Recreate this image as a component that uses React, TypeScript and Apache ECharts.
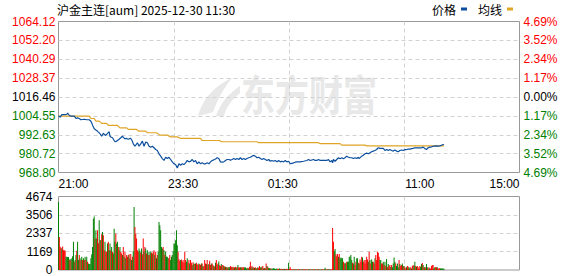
import React, { useEffect, useRef } from "react";
import * as echarts from "echarts";

const titleText = "沪金主连[aum] 2025-12-30 11:30";
const legendNames = ["价格", "均线"];

// tick labels, bottom to top
const priceTicks = ["968.80", "980.72", "992.63", "1004.55", "1016.46", "1028.37", "1040.29", "1052.20", "1064.12"];
const pctTicks = ["4.69%", "3.52%", "2.34%", "1.17%", "0.00%", "1.17%", "2.34%", "3.52%", "4.69%"];
const volTicks = ["0", "1169", "2337", "3506", "4674"];
const timeTicks: Record<number, string> = { 0: "21:00", 150: "23:30", 270: "01:30", 435: "11:00", 555: "15:00" };

const priceMin = 968.8;
const priceMax = 1064.12;
const volMax = 4674;
const totalMinutes = 555;

// [minute index, price]
const pricePoints: [number, number][] = [
  [0, 1004.4], [2, 1003.8], [4, 1005.3], [8, 1005.3], [10, 1005.6], [11, 1006.3], [12, 1005.5], [13, 1004.8], [15, 1004.4], [19, 1004.4],
  [21, 1002.9], [23, 1003.3], [25, 1002.9], [27, 1002.1], [31, 1002.4], [34, 1002.1], [37, 1002.1], [39, 1001.2], [40, 1000.0], [41, 998.7],
  [43, 996.4], [45, 995.6], [46, 995.3], [48, 994.3], [49, 993.9], [51, 992.5], [52, 991.7], [54, 993.6], [55, 993.0], [57, 992.2],
  [59, 993.5], [61, 994.5], [62, 991.7], [63, 991.2], [65, 990.7], [67, 989.0], [68, 988.2], [70, 988.6], [71, 989.0], [73, 989.8],
  [75, 990.7], [77, 991.7], [78, 991.0], [80, 990.1], [82, 990.3], [84, 989.8], [86, 990.3], [87, 990.3], [89, 988.5], [90, 986.9],
  [92, 985.4], [93, 986.0], [95, 987.6], [97, 985.4], [99, 986.9], [101, 988.6], [103, 985.4], [105, 988.0], [107, 987.6], [109, 985.4],
  [111, 984.8], [113, 985.4], [115, 984.4], [117, 983.3], [119, 982.7], [121, 980.6], [123, 979.1], [125, 977.6], [127, 976.4], [129, 978.4],
  [131, 977.6], [133, 978.4], [135, 977.0], [137, 975.5], [139, 974.3], [141, 973.8], [143, 971.7], [145, 974.3], [147, 973.4], [149, 974.3],
  [151, 973.8], [153, 974.9], [155, 976.4], [157, 975.5], [159, 975.9], [161, 977.0], [163, 975.5], [165, 976.4], [167, 974.3], [169, 975.5],
  [171, 974.3], [173, 974.9], [175, 974.3], [177, 974.3], [179, 974.9], [181, 974.3], [183, 975.5], [185, 976.4], [187, 976.8], [189, 977.3],
  [191, 978.1], [193, 977.6], [195, 975.5], [197, 975.3], [199, 975.5], [201, 976.4], [203, 977.0], [205, 977.0], [207, 976.6], [209, 977.0],
  [211, 977.6], [213, 977.0], [215, 977.6], [217, 977.0], [219, 978.1], [221, 977.0], [223, 977.6], [225, 977.0], [227, 977.6], [229, 978.1],
  [231, 978.4], [233, 979.1], [235, 979.6], [237, 979.1], [239, 978.1], [241, 978.4], [243, 977.6], [245, 977.0], [247, 977.6], [249, 977.0],
  [251, 976.4], [253, 977.0], [255, 975.9], [257, 976.4], [259, 975.9], [261, 976.4], [263, 975.5], [265, 976.4], [267, 975.5], [269, 975.9],
  [271, 975.5], [273, 976.4], [275, 975.5], [277, 975.9], [279, 974.3], [281, 974.6], [283, 974.9], [285, 975.3], [287, 975.5], [291, 975.5],
  [295, 975.9], [299, 976.4], [301, 977.0], [303, 976.4], [307, 977.0], [309, 976.4], [311, 976.4], [313, 977.0], [315, 976.4], [319, 976.4],
  [323, 976.4], [325, 977.0], [327, 975.5], [329, 976.4], [330, 974.9], [331, 977.0], [333, 975.9], [335, 977.0], [337, 978.1], [339, 977.5],
  [341, 978.1], [343, 977.5], [345, 978.1], [347, 979.1], [349, 978.4], [351, 978.1], [353, 978.1], [355, 977.6], [357, 978.1], [359, 977.6],
  [361, 978.4], [362, 977.6], [365, 979.1], [367, 979.7], [369, 980.6], [371, 981.0], [373, 980.6], [375, 981.2], [377, 981.9], [379, 982.3],
  [381, 982.7], [383, 983.3], [385, 984.4], [387, 984.0], [389, 984.0], [391, 984.0], [393, 982.7], [395, 983.3], [397, 982.7], [399, 983.3],
  [401, 982.7], [403, 982.3], [405, 983.0], [407, 982.3], [409, 981.9], [411, 982.7], [413, 983.0], [415, 982.7], [417, 983.3], [419, 983.3],
  [421, 983.6], [423, 983.6], [425, 983.9], [427, 984.0], [429, 984.4], [431, 984.4], [433, 984.4], [435, 984.4], [437, 984.4], [439, 984.8],
  [441, 983.9], [443, 983.3], [445, 984.4], [447, 984.8], [449, 985.0], [451, 985.4], [453, 985.4], [455, 985.6], [457, 985.4], [459, 985.6],
  [461, 986.0], [463, 986.5], [464, 986.3],
];

// [minute index, average price]
const avgPoints: [number, number][] = [
  [0, 1004.4], [37, 1004.4], [39, 1002.9], [43, 1002.9], [45, 1001.2], [49, 1001.2], [52, 999.8], [58, 999.8], [60, 998.5], [71, 998.5],
  [74, 997.0], [82, 997.0], [84, 996.0], [94, 996.0], [97, 994.9], [105, 994.9], [107, 993.9], [118, 993.9], [122, 992.4], [131, 992.4],
  [135, 991.3], [143, 991.3], [147, 990.3], [171, 990.3], [173, 989.0], [194, 989.0], [196, 988.2], [239, 988.2], [241, 987.6], [313, 987.6],
  [315, 987.0], [339, 987.0], [341, 986.1], [369, 986.1], [371, 985.6], [464, 985.6],
];

// volume per minute, from minute 0
const volumes: number[] = [
  4320, 2100, 1480, 1410, 1370, 1500, 1260, 1250, 1230, 850,
  840, 830, 820, 640, 700, 620, 740, 880, 1790, 520,
  630, 950, 1220, 1790, 640, 950, 740, 630, 840, 630,
  740, 630, 840, 630, 840, 520, 420, 380, 380, 740,
  1000, 1470, 3260, 3410, 2000, 2530, 2000, 2530, 1700, 3160,
  1890, 1900, 2270, 2420, 2210, 1260, 1790, 1200, 1160, 1680,
  1790, 1260, 1680, 1260, 1470, 1160, 1050, 2630, 1800, 2315,
  1680, 1790, 1470, 1260, 1470, 1160, 1050, 950, 1470, 840,
  1160, 740, 950, 840, 950, 1000, 740, 1010, 630, 840,
  1200, 4000, 2740, 2300, 2000, 1260, 1160, 1370, 1220, 1100,
  1370, 1000, 2000, 1160, 1470, 1370, 1050, 1260, 950, 1160,
  950, 1160, 1100, 1050, 1160, 1260, 950, 1160, 740, 950,
  1160, 3050, 2840, 2530, 1470, 1370, 1470, 1260, 950, 1160,
  840, 840, 740, 740, 950, 630, 840, 950, 1200, 1680,
  1680, 1890, 2530, 1580, 1160, 680, 590, 630, 670, 520,
  630, 470, 1160, 630, 520, 740, 460, 630, 420, 630,
  460, 320, 500, 420, 380, 420, 460, 370, 320, 420,
  380, 320, 420, 420, 260, 220, 630, 420, 380, 630,
  320, 380, 590, 320, 420, 420, 320, 250, 220, 460,
  630, 330, 420, 540, 310, 250, 380, 300, 320, 250,
  230, 200, 180, 170, 160, 170, 170, 250, 200, 160,
  210, 170, 160, 200, 160, 170, 320, 170, 160, 170,
  170, 160, 170, 180, 160, 170, 100, 120, 150, 110,
  210, 520, 170, 250, 160, 170, 120, 180, 110, 120,
  170, 150, 250, 170, 160, 200, 250, 100, 120, 90,
  420, 250, 200, 130, 110, 90, 100, 80, 90, 110,
  90, 70, 80, 90, 70, 80, 90, 60, 80, 70,
  60, 70, 80, 70, 60, 80, 60, 460, 60, 170,
  50, 40, 50, 40, 30, 40, 50, 40, 30, 40,
  40, 30, 50, 40, 30, 40, 50, 30, 40, 30,
  40, 30, 50, 40, 30, 40, 30, 40, 50, 30,
  40, 30, 40, 50, 30, 40, 30, 40, 50, 30,
  40, 150, 40, 30, 40, 50, 30, 40, 40, 50,
  2670, 1790, 1200, 1330, 1000, 880, 1010, 840, 1010, 740,
  800, 740, 740, 530, 420, 460, 420, 530, 530, 530,
  840, 840, 950, 630, 460, 420, 840, 320, 530, 740,
  740, 460, 420, 670, 530, 840, 800, 530, 630, 420,
  630, 840, 670, 530, 1160, 630, 420, 670, 530, 530,
  420, 740, 950, 630, 1160, 1100, 840, 630, 630, 420,
  420, 530, 320, 530, 250, 700, 170, 380, 250, 320,
  170, 320, 170, 420, 800, 530, 420, 250, 420, 170,
  630, 380, 250, 320, 420, 250, 250, 170, 100, 170,
  250, 210, 170, 100, 170, 100, 250, 320, 250, 530,
  250, 200, 250, 170, 100, 250, 200, 380, 450, 320,
  170, 170, 170, 380, 170, 100, 170, 100, 100, 250,
  320, 320, 100, 170, 170, 170, 170, 100, 100, 120,
  100, 100, 100, 100, 80,
];

// r = up (red), g = down (green), one letter per minute
const volumeSide = (
  "grrrgrrrrg gggrgrgggr ggrggrgrgr grgrgrgggg ggggrggrrg rgrgrrgrrg rggrgrgggr ggrrgrrgrg rgrrgrgrgr ggrrrrrggr " +
  "grrgrgrgrg rgrgrrgrgr ggggggrgrg gggrrggggg ggggrrrgrr rrrrggrrgr rgrgrgrrrg rrgrgrrrgr rgrrgrrgrg rrrgrrgrrg " +
  "rgrgrggrrg rrgrgrgrrg rgrrggggrg rrgrgrgrgr grrgrgrgrg rgrgggrggg ggggrrggrr grgrgrrgrr rrgrrgrgrr grrggrrgrg " +
  "rggrrggrrg grrgrgrgrr ggrgrgrgrr rrggrrrgrg gggrrggrgg ggggrggrrg grgrrrgrrr rrrgrgrggr rgrrrrrggr rgrgrgrgrr " +
  "grggggrggg rgrrgrgrrg rrggrgrrgg rgrrrrggrg rgrggrrgrr rrggrrgrrr ggggg"
).replace(/ /g, "").split("");

const RED = "#ff0000";
const GREEN = "#008000";
const PRICE_COLOR = "#0c4f9e";
const AVG_COLOR = "#e0a526";
const WATERMARK = "#e8e8e8";
const NUM_FONT = '"Liberation Sans", Arial, sans-serif';
const CJK_FONT = '"Noto Sans CJK SC", sans-serif';

const LOGO_PATH =
  "M0 40 C4 24 16 10 34 2 C26 12 20 22 15 36 C11 37 5 39 0 40 Z M18 40 C22 28 30 18 42 10 L42 17 C33 24 28 32 26 40 Z";

export default function App() {
  const ref = useRef<HTMLDivElement>(null);

  useEffect(() => {
    if (!ref.current) return;
    const Logo = echarts.graphic.extendPath(LOGO_PATH, {});
    echarts.graphic.registerShape("emlogo", Logo as any);

    const chart = echarts.init(ref.current, undefined, { renderer: "svg" });

    const splitLine = {
      show: true,
      showMinLine: false,
      showMaxLine: false,
      lineStyle: { color: "#d2d2d2", type: [4, 3] as any, width: 1 },
    };

    const option: any = {
      animation: false,
      backgroundColor: "#ffffff",
      title: {
        text: titleText,
        left: 57,
        top: 3,
        padding: 0,
        textStyle: { fontSize: 12, fontWeight: "normal", color: "#000", fontFamily: CJK_FONT },
      },
      legend: {
        data: legendNames.map((n) => ({ name: n, icon: "rect" })),
        right: 65,
        top: 3,
        padding: 0,
        align: "right",
        itemWidth: 6,
        itemHeight: 3,
        itemGap: 11,
        textStyle: { fontSize: 12, color: "#000", fontFamily: CJK_FONT },
      },
      graphic: [
        {
          type: "emlogo",
          x: 198,
          y: 76,
          style: { fill: WATERMARK },
          z: 0,
          silent: true,
        },
        {
          type: "text",
          x: 241,
          y: 71,
          scaleY: 1.25,
          z: 0,
          silent: true,
          style: {
            text: "东方财富",
            fill: WATERMARK,
            font: 'bold 34px "Noto Sans CJK SC"',
            textVerticalAlign: "top",
          },
        },
      ],
      grid: [
        { left: 58.5, top: 21.5, width: 461, height: 151, show: true, borderColor: "#999", borderWidth: 1, backgroundColor: "transparent" },
        { left: 58.5, top: 196.5, width: 461, height: 74, show: true, borderColor: "#999", borderWidth: 1, backgroundColor: "transparent" },
      ],
      xAxis: [
        {
          type: "value",
          gridIndex: 0,
          min: 0,
          max: totalMinutes,
          interval: totalMinutes / 4,
          axisLine: { show: false },
          axisTick: { show: false },
          axisLabel: { show: false },
          splitLine,
        },
        {
          type: "value",
          gridIndex: 0,
          position: "bottom",
          min: 0,
          max: totalMinutes,
          interval: 15,
          axisLine: { show: false },
          axisTick: { show: false },
          splitLine: { show: false },
          axisLabel: {
            show: true,
            margin: 5,
            fontSize: 12,
            color: "#000",
            fontFamily: NUM_FONT,
            showMinLabel: true,
            showMaxLabel: true,
            alignMinLabel: "left",
            alignMaxLabel: "right",
            formatter: (v: number) => timeTicks[Math.round(v)] ?? "",
          },
        },
        {
          type: "value",
          gridIndex: 1,
          min: 0,
          max: totalMinutes,
          interval: totalMinutes / 4,
          axisLine: { show: false },
          axisTick: { show: false },
          axisLabel: { show: false },
          splitLine,
        },
      ],
      yAxis: [
        { type: "value", gridIndex: 0, min: priceMin, max: priceMax, show: false, position: "right" },
        {
          type: "value",
          gridIndex: 0,
          position: "left",
          min: 0,
          max: priceTicks.length - 1,
          interval: 1,
          axisLine: { show: false },
          axisTick: { show: false },
          splitLine,
          axisLabel: {
            margin: 3,
            fontSize: 12,
            fontFamily: NUM_FONT,
            formatter: (v: number) => priceTicks[Math.round(v)],
            color: (v: any) => {
              const i = Math.round(Number(v));
              return i > 4 ? RED : i < 4 ? GREEN : "#000";
            },
          },
        },
        {
          type: "value",
          gridIndex: 0,
          position: "right",
          min: 0,
          max: pctTicks.length - 1,
          interval: 1,
          axisLine: { show: false },
          axisTick: { show: false },
          splitLine: { show: false },
          axisLabel: {
            margin: 4,
            fontSize: 12,
            fontFamily: NUM_FONT,
            formatter: (v: number) => pctTicks[Math.round(v)],
            color: (v: any) => {
              const i = Math.round(Number(v));
              return i > 4 ? RED : i < 4 ? GREEN : "#000";
            },
          },
        },
        {
          type: "value",
          gridIndex: 1,
          position: "left",
          min: 0,
          max: volMax,
          interval: volMax / 4,
          axisLine: { show: false },
          axisTick: { show: false },
          splitLine,
          axisLabel: {
            margin: 6,
            fontSize: 12,
            fontFamily: NUM_FONT,
            color: "#000",
            formatter: (v: number) => volTicks[Math.round(v / (volMax / 4))],
          },
        },
      ],
      series: [
        {
          name: legendNames[0],
          type: "line",
          xAxisIndex: 0,
          yAxisIndex: 0,
          data: pricePoints,
          showSymbol: false,
          color: PRICE_COLOR,
          lineStyle: { color: PRICE_COLOR, width: 1.2 },
          z: 4,
        },
        {
          name: legendNames[1],
          type: "line",
          xAxisIndex: 0,
          yAxisIndex: 0,
          data: avgPoints,
          showSymbol: false,
          color: AVG_COLOR,
          lineStyle: { color: AVG_COLOR, width: 1.2 },
          z: 3,
        },
        {
          name: "成交量",
          type: "bar",
          xAxisIndex: 2,
          yAxisIndex: 3,
          barWidth: 1,
          data: volumes.map((v, i) => ({
            value: [i, v],
            itemStyle: { color: volumeSide[i] === "r" ? RED : GREEN },
          })),
        },
      ],
    };

    chart.setOption(option);
    return () => chart.dispose();
  }, []);

  return (
    <div
      ref={ref}
      style={{ position: "fixed", left: 0, top: 0, width: 578, height: 276, background: "#fff" }}
    />
  );
}
